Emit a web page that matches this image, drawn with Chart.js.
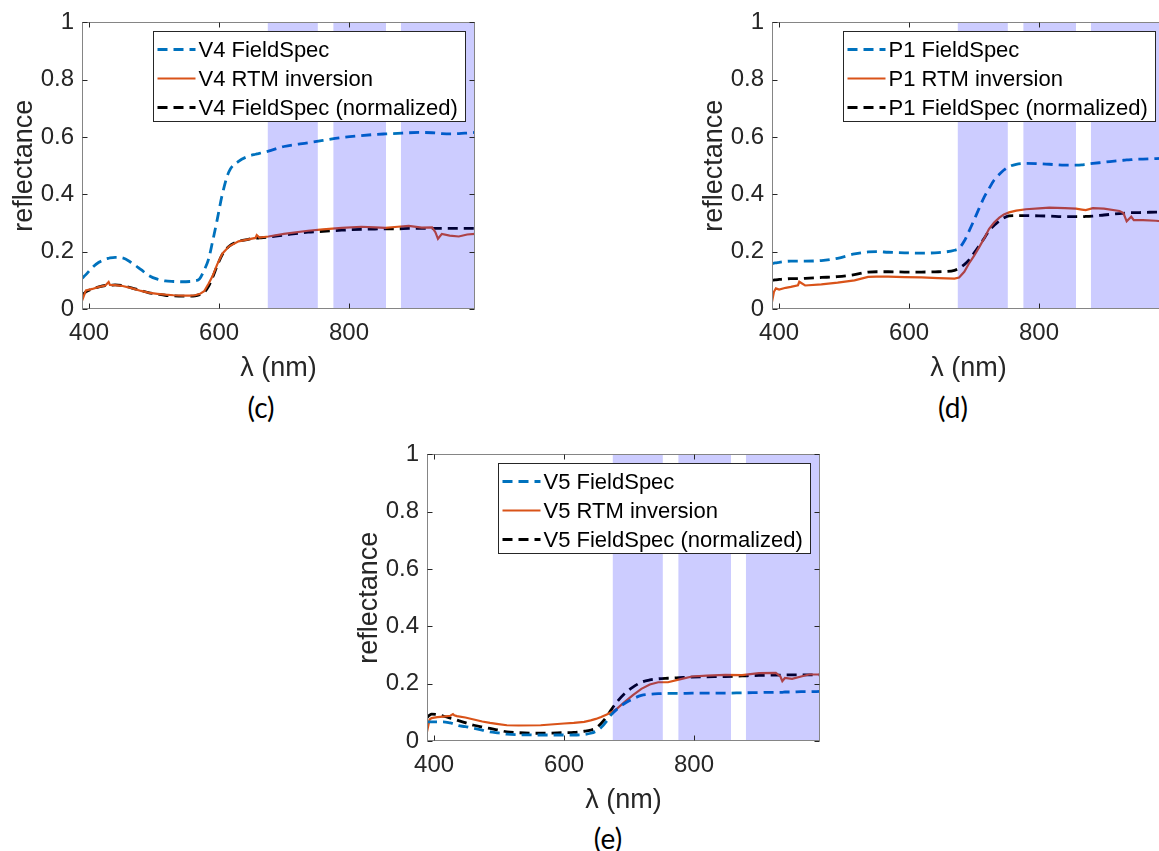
<!DOCTYPE html>
<html>
<head>
<meta charset="utf-8">
<title>Reflectance spectra</title>
<script src="https://cdn.jsdelivr.net/npm/chart.js@4.4.1/dist/chart.umd.min.js"></script>
<style>
  html, body { margin: 0; padding: 0; background: #fff; overflow: hidden; }
  body { width: 1159px; height: 851px; position: relative; }
  canvas { position: absolute; }
  .caption { position: absolute; font-family: Lato, "Open Sans", sans-serif; font-size: 28px; color: #000; transform: translate(-50%, -50%); }
</style>
</head>
<body>
<canvas id="chartC" width="480" height="385" style="left:0px;top:0px"></canvas>
<canvas id="chartD" width="480" height="385" style="left:690px;top:0px"></canvas>
<canvas id="chartE" width="480" height="385" style="left:345px;top:432px"></canvas>
<div class="caption" style="left:261px;top:407px">(c)</div>
<div class="caption" style="left:953px;top:407px">(d)</div>
<div class="caption" style="left:608px;top:838px">(e)</div>
<script>
// axis ticks and shaded wavelength windows (nm)
const xTicks = [400, 600, 800];
const yTicks = [0, 0.2, 0.4, 0.6, 0.8, 1];
const bandStart = [675, 776, 880];
const bandEnd = [752, 857, 1000];

// (c) V4
const wlC = [389, 395, 405, 415, 425, 430, 432, 440, 450, 465, 480, 491, 505, 517, 530, 543, 555, 563, 570, 577, 584, 590, 597, 605, 615, 630, 645, 656, 658, 662, 676, 700, 737, 760, 789, 819, 840, 856, 875, 892, 912, 928, 933, 937, 943, 955, 969, 982, 994];
const fieldC = [0.107, 0.12, 0.145, 0.163, 0.174, 0.177, 0.178, 0.180, 0.179, 0.162, 0.137, 0.118, 0.104, 0.098, 0.096, 0.095, 0.096, 0.098, 0.105, 0.135, 0.175, 0.235, 0.31, 0.40, 0.478, 0.515, 0.533, 0.54, 0.541, 0.543, 0.551, 0.567, 0.58, 0.588, 0.598, 0.605, 0.609, 0.611, 0.613, 0.615, 0.616, 0.615, 0.614, 0.613, 0.612, 0.611, 0.612, 0.614, 0.616];
const rtmC = [0.028, 0.065, 0.070, 0.077, 0.082, 0.094, 0.084, 0.083, 0.081, 0.073, 0.063, 0.057, 0.053, 0.050, 0.048, 0.047, 0.047, 0.048, 0.052, 0.062, 0.089, 0.115, 0.155, 0.193, 0.218, 0.236, 0.243, 0.248, 0.258, 0.249, 0.253, 0.262, 0.273, 0.278, 0.283, 0.287, 0.285, 0.283, 0.287, 0.29, 0.284, 0.285, 0.268, 0.245, 0.262, 0.256, 0.253, 0.26, 0.262];
const normC = [0.048, 0.06, 0.07, 0.077, 0.082, 0.083, 0.083, 0.084, 0.082, 0.074, 0.064, 0.057, 0.052, 0.048, 0.046, 0.045, 0.045, 0.046, 0.05, 0.058, 0.08, 0.11, 0.15, 0.19, 0.218, 0.236, 0.243, 0.247, 0.247, 0.248, 0.251, 0.258, 0.268, 0.271, 0.275, 0.278, 0.279, 0.28, 0.28, 0.281, 0.281, 0.281, 0.281, 0.281, 0.281, 0.281, 0.281, 0.281, 0.281];

// (d) P1
const wlD = [389, 392, 395, 400, 410, 418, 429, 431, 440, 465, 490, 516, 537, 550, 568, 593, 619, 645, 670, 677, 685, 692, 700, 708, 716, 723, 731, 739, 746, 754, 765, 780, 800, 816, 840, 857, 866, 872, 883, 900, 924, 930, 935, 942, 946, 960, 980, 994];
const fieldD = [0.158, 0.16, 0.161, 0.163, 0.166, 0.167, 0.167, 0.167, 0.167, 0.169, 0.177, 0.192, 0.199, 0.2, 0.198, 0.196, 0.195, 0.197, 0.205, 0.212, 0.237, 0.27, 0.31, 0.352, 0.392, 0.42, 0.45, 0.47, 0.485, 0.497, 0.505, 0.508, 0.507, 0.505, 0.502, 0.502, 0.503, 0.505, 0.508, 0.512, 0.518, 0.519, 0.52, 0.521, 0.522, 0.523, 0.525, 0.526];
const rtmD = [0.025, 0.06, 0.072, 0.068, 0.074, 0.077, 0.083, 0.095, 0.082, 0.086, 0.092, 0.10, 0.112, 0.113, 0.113, 0.111, 0.11, 0.108, 0.106, 0.11, 0.13, 0.158, 0.185, 0.216, 0.248, 0.279, 0.302, 0.319, 0.33, 0.337, 0.343, 0.348, 0.351, 0.354, 0.352, 0.35, 0.347, 0.345, 0.352, 0.35, 0.342, 0.335, 0.306, 0.322, 0.31, 0.31, 0.308, 0.305];
const normD = [0.10, 0.101, 0.102, 0.103, 0.105, 0.106, 0.106, 0.106, 0.107, 0.11, 0.113, 0.12, 0.129, 0.13, 0.13, 0.129, 0.129, 0.13, 0.135, 0.142, 0.155, 0.17, 0.195, 0.221, 0.248, 0.273, 0.292, 0.308, 0.318, 0.325, 0.326, 0.326, 0.325, 0.324, 0.322, 0.322, 0.322, 0.323, 0.324, 0.328, 0.333, 0.334, 0.335, 0.336, 0.336, 0.337, 0.338, 0.339];

// (e) V5
const wlE = [389, 393, 396, 405, 414, 425, 429, 431, 435, 448, 461, 474, 486, 499, 512, 530, 564, 600, 615, 631, 641, 649, 657, 665, 672, 682, 693, 706, 719, 732, 745, 760, 778, 797, 820, 848, 874, 900, 926, 933, 936, 940, 951, 965, 977, 994];
const fieldE = [0.067, 0.067, 0.067, 0.067, 0.067, 0.063, 0.061, 0.06, 0.055, 0.05, 0.044, 0.038, 0.032, 0.028, 0.024, 0.022, 0.021, 0.021, 0.021, 0.023, 0.027, 0.034, 0.047, 0.068, 0.09, 0.112, 0.131, 0.147, 0.159, 0.163, 0.165, 0.166, 0.166, 0.167, 0.167, 0.167, 0.168, 0.169, 0.17, 0.17, 0.17, 0.171, 0.171, 0.172, 0.172, 0.173];
const rtmE = [0.032, 0.075, 0.08, 0.083, 0.085, 0.088, 0.094, 0.09, 0.087, 0.082, 0.075, 0.068, 0.063, 0.059, 0.055, 0.054, 0.055, 0.061, 0.063, 0.067, 0.072, 0.077, 0.084, 0.092, 0.099, 0.114, 0.136, 0.16, 0.182, 0.197, 0.205, 0.205, 0.215, 0.225, 0.228, 0.231, 0.23, 0.237, 0.238, 0.225, 0.209, 0.22, 0.217, 0.225, 0.232, 0.232];
const normE = [0.082, 0.09, 0.094, 0.092, 0.087, 0.08, 0.078, 0.077, 0.073, 0.064, 0.055, 0.049, 0.044, 0.038, 0.032, 0.029, 0.027, 0.029, 0.03, 0.034, 0.038, 0.045, 0.061, 0.083, 0.107, 0.138, 0.165, 0.188, 0.205, 0.213, 0.217, 0.219, 0.221, 0.223, 0.224, 0.225, 0.227, 0.229, 0.23, 0.23, 0.23, 0.231, 0.231, 0.231, 0.231, 0.231];

const FONT = "'Liberation Sans', Arial, sans-serif";
const AXIS = '#262626';

const toPoints = (xs, ys) => xs.map((x, i) => ({x, y: ys[i]}));

// shaded windows over the lines, then the box, inward ticks and the legend
const framePlugin = {
  id: 'frame',
  afterDatasetsDraw(chart) {
    const {ctx, chartArea: a, scales: {x}} = chart;
    ctx.save();
    ctx.beginPath();
    ctx.rect(a.left, a.top, a.width, a.height);
    ctx.clip();
    ctx.fillStyle = 'rgba(0,0,255,0.2)';
    bandStart.forEach((s, i) => {
      const x0 = x.getPixelForValue(s);
      const x1 = x.getPixelForValue(bandEnd[i]);
      ctx.fillRect(x0, a.top, x1 - x0, a.height);
    });
    ctx.restore();
  },
  afterDraw(chart) {
    const {ctx, chartArea: a, scales: {x, y}} = chart;
    ctx.save();
    ctx.strokeStyle = '#858585';
    ctx.lineWidth = 1;
    const L = Math.round(a.left) + 0.5, R = Math.round(a.right) - 0.5;
    const T = Math.round(a.top) + 0.5, B = Math.round(a.bottom) - 0.5;
    ctx.strokeRect(L, T, R - L, B - T);
    ctx.strokeStyle = AXIS;
    ctx.beginPath();
    xTicks.forEach(v => {
      const px = Math.round(x.getPixelForValue(v)) + 0.5;
      ctx.moveTo(px, B); ctx.lineTo(px, B - 5);
      ctx.moveTo(px, T); ctx.lineTo(px, T + 5);
    });
    yTicks.forEach(v => {
      const py = Math.round(y.getPixelForValue(v)) + 0.5;
      ctx.moveTo(L, py); ctx.lineTo(L + 5, py);
      ctx.moveTo(R, py); ctx.lineTo(R - 5, py);
    });
    ctx.stroke();

    // legend
    const sets = chart.data.datasets;
    ctx.font = '22px ' + FONT;
    const textW = Math.max(...sets.map(d => ctx.measureText(d.label).width));
    const w = Math.round(textW + 53), h = 90;
    const bx = Math.round(a.right - 10 - w) + 0.5, by = Math.round(a.top + 9) + 0.5;
    ctx.fillStyle = '#fff';
    ctx.fillRect(bx, by, w, h);
    ctx.strokeStyle = '#262626';
    ctx.strokeRect(bx, by, w, h);
    sets.forEach((d, i) => {
      const yy = by + 18 + i * 29;
      ctx.beginPath();
      ctx.strokeStyle = d.borderColor;
      ctx.lineWidth = d.borderWidth;
      ctx.setLineDash(d.borderDash || []);
      ctx.moveTo(bx + 4, yy);
      ctx.lineTo(bx + 42, yy);
      ctx.stroke();
      ctx.setLineDash([]);
      ctx.fillStyle = '#000';
      ctx.textBaseline = 'middle';
      ctx.textAlign = 'left';
      ctx.fillText(d.label, bx + 45, yy + 1);
    });
    ctx.restore();
  }
};

function makeChart(id, name, wl, field, rtm, norm) {
  return new Chart(document.getElementById(id), {
    type: 'line',
    data: {
      datasets: [
        { label: name + ' FieldSpec', data: toPoints(wl, field), borderColor: '#0072BD', borderWidth: 2.8, borderDash: [10, 6], cubicInterpolationMode: 'monotone' },
        { label: name + ' RTM inversion', data: toPoints(wl, rtm), borderColor: '#D95319', borderWidth: 2.2, tension: 0 },
        { label: name + ' FieldSpec (normalized)', data: toPoints(wl, norm), borderColor: '#000000', borderWidth: 2.8, borderDash: [10, 6], cubicInterpolationMode: 'monotone' }
      ]
    },
    options: {
      responsive: false,
      animation: false,
      devicePixelRatio: 1,
      layout: { padding: { top: 20, left: 0, right: 5, bottom: 0 } },
      elements: { point: { radius: 0 } },
      plugins: { legend: { display: false }, tooltip: { enabled: false } },
      scales: {
        x: {
          type: 'linear', min: 389, max: 994,
          afterBuildTicks: s => { s.ticks = xTicks.map(v => ({value: v})); },
          afterFit: s => { s.height = 76; },
          grid: { display: false, drawTicks: false },
          border: { display: false },
          ticks: { color: AXIS, padding: 10, font: { family: FONT, size: 24 }, callback: v => String(v) },
          title: { display: true, text: 'λ (nm)', color: AXIS, padding: 0, font: { family: FONT, size: 27 } }
        },
        y: {
          min: 0, max: 1,
          afterBuildTicks: s => { s.ticks = yTicks.map(v => ({value: v})); },
          afterFit: s => { s.width = 82; },
          grid: { display: false, drawTicks: false },
          border: { display: false },
          ticks: { color: AXIS, padding: 8, font: { family: FONT, size: 24 }, callback: v => String(v) },
          title: { display: true, text: 'reflectance', color: AXIS, padding: { top: 8, bottom: 0 }, font: { family: FONT, size: 27 } }
        }
      }
    },
    plugins: [framePlugin]
  });
}

makeChart('chartC', 'V4', wlC, fieldC, rtmC, normC);
makeChart('chartD', 'P1', wlD, fieldD, rtmD, normD);
makeChart('chartE', 'V5', wlE, fieldE, rtmE, normE);
</script>
</body>
</html>
